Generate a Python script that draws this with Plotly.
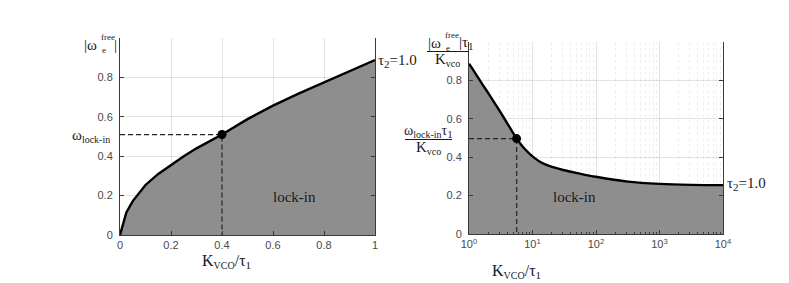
import plotly.graph_objects as go

# ---- data ----
left_x = [0, 0.025, 0.05, 0.075, 0.1, 0.15, 0.2, 0.25, 0.3, 0.35, 0.4, 0.5, 0.6, 0.7, 0.8, 0.9, 1.0]
left_y = [0, 0.115, 0.172, 0.216, 0.254, 0.31, 0.357, 0.4, 0.44, 0.476, 0.51, 0.588, 0.657, 0.718, 0.775, 0.832, 0.888]
right_x = [1, 1.26, 1.58, 2.0, 2.51, 3.16, 3.98, 4.73, 5.62, 7.5, 10, 13.3, 17.8, 31.6, 56.2, 100, 316, 1000, 3162, 10000]
right_y = [0.887, 0.837, 0.786, 0.735, 0.684, 0.632, 0.578, 0.537, 0.497, 0.444, 0.404, 0.375, 0.356, 0.332, 0.314, 0.298, 0.273, 0.261, 0.256, 0.2545]
lock_left = (0.4, 0.51)
lock_right = (5.62, 0.497)
y_ticks = [0, 0.2, 0.4, 0.6, 0.8]
left_xticks = [0, 0.2, 0.4, 0.6, 0.8, 1]
right_xticks = [1, 10, 100, 1000, 10000]
right_xticktext = ["10<sup>0</sup>", "10<sup>1</sup>", "10<sup>2</sup>", "10<sup>3</sup>", "10<sup>4</sup>"]
minor_vals = [m * 10 ** k for k in range(4) for m in range(2, 10)]

OFF = 8  # default page body margin
W, H = 789 - OFF, 283 - OFF
FILL = "#8e8e8e"
AX = "#3a3a3a"
GRID = "rgba(38,38,38,0.13)"
SERIF = "Liberation Serif"
SANS = "Liberation Sans"


def px(x):
    return (x - OFF) / W


def py(y):
    return 1 - (y - OFF) / H


fig = go.Figure()

# left panel
fig.add_trace(go.Scatter(x=left_x, y=left_y, mode="lines", fill="tozeroy", fillcolor=FILL,
                         line=dict(color="black", width=2.4), xaxis="x", yaxis="y", showlegend=False))
fig.add_trace(go.Scatter(x=[0, lock_left[0], lock_left[0]], y=[lock_left[1], lock_left[1], 0], mode="lines",
                         line=dict(color="#262626", width=1.2, dash="5px,3px"), xaxis="x", yaxis="y", showlegend=False))
fig.add_trace(go.Scatter(x=[lock_left[0]], y=[lock_left[1]], mode="markers",
                         marker=dict(color="black", size=9), xaxis="x", yaxis="y", showlegend=False, cliponaxis=False))

# right panel
fig.add_trace(go.Scatter(x=right_x, y=right_y, mode="lines", fill="tozeroy", fillcolor=FILL, line_shape="spline",
                         line=dict(color="black", width=2.4), xaxis="x2", yaxis="y2", showlegend=False))
fig.add_trace(go.Scatter(x=[1, lock_right[0], lock_right[0]], y=[lock_right[1], lock_right[1], 0], mode="lines",
                         line=dict(color="#262626", width=1.2, dash="5px,3px"), xaxis="x2", yaxis="y2", showlegend=False))
fig.add_trace(go.Scatter(x=[lock_right[0]], y=[lock_right[1]], mode="markers",
                         marker=dict(color="black", size=9), xaxis="x2", yaxis="y2", showlegend=False, cliponaxis=False))

tickfont = dict(family=SANS, size=11, color="#4a4a4a")
common_y = dict(range=[0, 1], tickvals=y_ticks, ticktext=[f"{v:g}" for v in y_ticks], showgrid=True, gridcolor=GRID,
                gridwidth=1, zeroline=False, showline=True, linecolor=AX, linewidth=1, mirror="ticks",
                ticks="inside", ticklen=4, tickcolor=AX, tickfont=tickfont, layer="above traces",
                ticklabelstandoff=4, automargin=False)

fig.update_layout(
    width=W, height=H, margin=dict(l=0, r=0, t=0, b=0, autoexpand=False),
    paper_bgcolor="white", plot_bgcolor="white",
    xaxis=dict(domain=[px(120), px(375)], range=[0, 1], tickvals=left_xticks,
               ticktext=[f"{v:g}" for v in left_xticks], showgrid=True, gridcolor=GRID, zeroline=False,
               showline=True, linecolor=AX, linewidth=1, ticks="inside", ticklen=4, tickcolor=AX,
               tickfont=tickfont, anchor="y", layer="above traces", automargin=False),
    yaxis=dict(domain=[py(235), py(38)], anchor="x", **common_y),
    xaxis2=dict(domain=[px(469), px(723)], type="log", range=[0, 4], tickvals=right_xticks,
                ticktext=right_xticktext, showgrid=True, gridcolor=GRID, zeroline=False,
                showline=True, linecolor=AX, linewidth=1, ticks="inside", ticklen=4, tickcolor=AX,
                tickfont=tickfont, anchor="y2", layer="above traces", automargin=False,
                minor=dict(tickmode="array", tickvals=minor_vals, showgrid=True, gridcolor="rgba(38,38,38,0.08)",
                           griddash="dot", ticks="inside", ticklen=2, tickcolor=AX)),
    yaxis2=dict(domain=[py(234), py(42)], anchor="x2", **common_y),
)


def ann(text, x, y, size=15, xanchor="center", yanchor="middle", family=SERIF):
    fig.add_annotation(text=text, x=px(x), y=py(y), xref="paper", yref="paper", showarrow=False,
                       xanchor=xanchor, yanchor=yanchor, font=dict(family=family, size=size, color="#1a1a1a"))


def small(t, s=10):
    return f"<span style='font-size:{s}px'>{t}</span>"


# x axis titles
xtitle = "K<sub>" + small("VCO") + "</sub>/τ<sub>" + small("1", 11) + "</sub>"
ann(xtitle, 226, 261, size=16)
ann(xtitle, 516, 271, size=16)

# left y label |ω_e^free|
ann("|ω", 99, 45, size=15, xanchor="right")
ann("free", 99, 37, size=9, xanchor="left")
ann("e", 100, 50, size=9, xanchor="left")
ann("|", 112, 45, size=15, xanchor="left")

# ω_lock-in
ann("ω<sub>" + small("lock-in") + "</sub>", 70, 136, size=15, xanchor="left")

# tau labels
ann("τ<sub>" + small("2", 11) + "</sub>=1.0", 376, 61, size=15, xanchor="left")
ann("τ<sub>" + small("2", 11) + "</sub>=1.0", 725, 184, size=15, xanchor="left")

# lock-in text
ann("lock-in", 294, 197, size=15)
ann("lock-in", 574, 197, size=15)

# right y label fraction |ω_e^free|τ1 / K_vco
ann("|ω", 443, 43, size=15, xanchor="right")
ann("free", 443, 35, size=9, xanchor="left")
ann("e", 444, 48, size=9, xanchor="left")
ann("|τ<sub>" + small("1", 11) + "</sub>", 457, 43, size=15, xanchor="left")
fig.add_shape(type="line", xref="paper", yref="paper", x0=px(427), x1=px(469), y0=py(51.5), y1=py(51.5),
              line=dict(color="#1a1a1a", width=1))
ann("K<sub>" + small("vco") + "</sub>", 447, 60, size=15)

# ω_lock-in τ1 / K_vco
ann("ω<sub>" + small("lock-in") + "</sub>τ<sub>" + small("1", 11) + "</sub>", 428, 131, size=14)
fig.add_shape(type="line", xref="paper", yref="paper", x0=px(405), x1=px(452), y0=py(139.5), y1=py(139.5),
              line=dict(color="#1a1a1a", width=1))
ann("K<sub>" + small("vco") + "</sub>", 428, 148, size=15)

fig.write_html("out.html")
